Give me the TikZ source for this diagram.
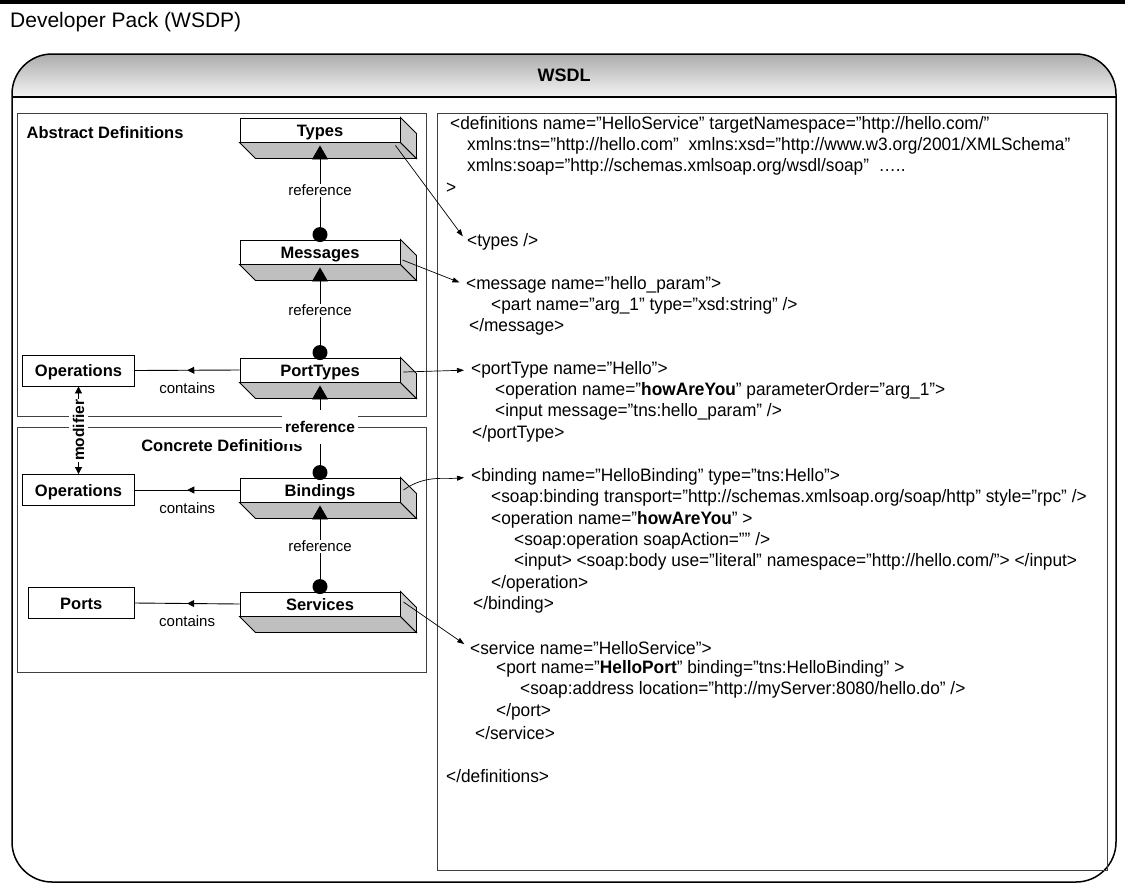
\documentclass[tikz,border=0pt]{standalone}
\usepackage{fontspec}
\setmainfont{Liberation Sans}
\newfontfamily\xmlfont[FakeStretch=0.96]{Liberation Sans}
\usetikzlibrary{arrows.meta, positioning, calc, decorations.markings}
\definecolor{slabgrey}{HTML}{BFBFBF}
\definecolor{sidegrey}{HTML}{CBCBCB}
\definecolor{headtop}{HTML}{ACACAC}
\definecolor{headbot}{HTML}{F4F4F4}
\definecolor{panelline}{HTML}{404040}
\tikzset{
  slab/.style={rectangle, draw, line width=0.9pt, fill=white, minimum width=160pt,
    minimum height=24pt, inner sep=0pt, text height=12pt, text depth=0pt,
    font=\bfseries\fontsize{16.5}{18}\selectfont},
  slabline/.style={draw, line width=0.9pt},
  opsbox/.style={rectangle, draw, line width=0.9pt, fill=white, minimum width=112pt,
    minimum height=31pt, inner sep=0pt, text height=12pt, text depth=0pt,
    font=\bfseries\fontsize{16.5}{18}\selectfont},
  panel/.style={draw=panelline, line width=0.9pt},
  paneltitle/.style={inner sep=0pt, font=\bfseries\fontsize{16.5}{18}\selectfont},
  refdot/.style={circle, fill, inner sep=0pt, minimum size=15pt},
  refarrow/.style={-{Triangle[length=14pt, width=16pt]}, line width=0.9pt},
  reflabel/.style={fill=white, inner sep=1pt, font=\fontsize{15}{17}\selectfont},
  reflabelb/.style={fill=white, inner xsep=3pt, inner ysep=0pt, minimum height=34pt,
    font=\bfseries\fontsize{15.5}{17}\selectfont},
  contains/.style={line width=0.9pt, postaction={decorate},
    decoration={markings, mark=at position 0.5 with {\arrow{Triangle[length=7pt, width=7pt]}}}},
  smalllabel/.style={inner sep=0pt, font=\fontsize{15}{17}\selectfont},
  xmlline/.style={anchor=west, inner sep=0pt, font=\xmlfont\fontsize{18}{20}\selectfont},
  xmlarrow/.style={-{Triangle[length=7pt, width=5pt]}, line width=0.7pt, shorten >=7pt},
}
% front face as a node, bottom and side faces drawn behind-right
\newcommand{\wsdlslab}[3]{%
  \node[slab] (#1) at (#2) {#3};
  \draw[slabline, fill=slabgrey] (#1.south west) -- (#1.south east)
    -- ($(#1.south east)+(16,-16)$) -- ($(#1.south west)+(16,-16)$) -- cycle;
  \draw[slabline, fill=sidegrey] (#1.north east) -- ($(#1.north east)+(16,-16)$)
    -- ($(#1.south east)+(16,-16)$) -- (#1.south east) -- cycle;
}

\begin{document}
\begin{tikzpicture}[x=1pt, y=1pt]
\useasboundingbox (0,0) rectangle (1125,-884);

% page header
\fill (0,0) rectangle (1125,-4);
\node[anchor=base west, inner sep=0pt, font=\fontsize{21}{24}\selectfont] (pack) at (10,-27) {Developer Pack (WSDP)};

% WSDL frame
\shade[top color=headtop, bottom color=headbot] (12,-97) [rounded corners=40pt] -- (12,-54)
  -- (1116,-54) [sharp corners] -- (1116,-97) -- cycle;
\draw[line width=1.5pt, rounded corners=40pt] (12,-54) rectangle (1116,-882);
\draw[line width=1.5pt] (12,-97) -- (1116,-97);
\node[font=\bfseries\fontsize{18}{20}\selectfont] (wsdl) at (564,-75) {WSDL};

% panels
\draw[panel] (17,-113) rectangle (426,-416);
\draw[panel] (17,-427) rectangle (426,-672);
\draw[panel] (437,-113) rectangle (1107,-870);
\node[paneltitle, anchor=west] (abstract) at (26.5,-133) {Abstract Definitions};
\node[paneltitle] (concrete) at (222,-446) {Concrete Definitions};

% slabs
\wsdlslab{types}{320,-130}{Types}
\wsdlslab{messages}{320,-252}{Messages}
\wsdlslab{porttypes}{320,-370}{PortTypes}
\wsdlslab{bindings}{320,-490}{Bindings}
\wsdlslab{services}{320,-604}{Services}

\node[refdot] (msgdot) at ($(messages.north)+(0,5)$) {};
\node[refdot] (ptdot) at ($(porttypes.north)+(0,5)$) {};
\node[refdot] (binddot) at ($(bindings.north)+(0,5)$) {};
\node[refdot] (svcdot) at ($(services.north)+(0,5)$) {};

% contained elements
\node[opsbox] (opsa) at (78.5,-370.5) {Operations};
\node[opsbox] (opsb) at (78.5,-490) {Operations};
\node[opsbox, minimum width=106pt] (ports) at (81.3,-603) {Ports};

% references
\draw[refarrow] (msgdot.center) -- ($(types.south)+(0,-3)$) node[reflabel, midway] {reference};
\draw[refarrow] (ptdot.center) -- ($(messages.south)+(0,-3)$) node[reflabel, midway] {reference};
\draw[refarrow] (binddot.center) -- ($(porttypes.south)+(0,-3)$) node[reflabelb, midway, yshift=2pt] {reference};
\draw[refarrow] (svcdot.center) -- ($(bindings.south)+(0,-3)$) node[reflabel, midway] {reference};

\draw[contains] (porttypes.west) -- (opsa.east) node[smalllabel, midway, below=12pt] {contains};
\draw[contains] (bindings.west) -- (opsb.east) node[smalllabel, midway, below=12pt] {contains};
\draw[contains] (services.west) -- (ports.east) node[smalllabel, midway, below=12pt] {contains};

\draw[{Triangle[length=7pt, width=7pt]}-{Triangle[length=7pt, width=7pt]}, line width=0.9pt]
  (opsa.south) -- (opsb.north)
  node[midway, rotate=90, fill=white, inner xsep=1pt, inner ysep=4pt,
    font=\bfseries\fontsize{15.5}{17}\selectfont] (modlabel) {modifier};

% WSDL document
\node[xmlline] (cdefs) at (450,-125) {<definitions name=”HelloService” targetNamespace=”http://hello.com/”};
\node[xmlline] (cns1) at (467,-146) {xmlns:tns=”http://hello.com”\ \ xmlns:xsd=”http://www.w3.org/2001/XMLSchema”};
\node[xmlline] (cns2) at (467,-167) {xmlns:soap=”http://schemas.xmlsoap.org/wsdl/soap”\ \ …..};
\node[xmlline] (cgt) at (446,-188) {>};
\node[xmlline] (ctypes) at (467,-242) {<types />};
\node[xmlline] (cmsg) at (466,-285) {<message name=”hello\_param”>};
\node[xmlline] (cpart) at (491,-306) {<part name=”arg\_1” type=”xsd:string” />};
\node[xmlline] (cmsgend) at (469,-327) {</message>};
\node[xmlline] (cport) at (471,-370) {<portType name=”Hello”>};
\node[xmlline] (cop) at (495,-391) {<operation name=”\textbf{howAreYou}” parameterOrder=”arg\_1”>};
\node[xmlline] (cin) at (495,-412) {<input message=”tns:hello\_param” />};
\node[xmlline] (cportend) at (472,-434) {</portType>};
\node[xmlline] (cbind) at (471,-477) {<binding name=”HelloBinding” type=”tns:Hello”>};
\node[xmlline] (csoapb) at (491,-498) {<soap:binding transport=”http://schemas.xmlsoap.org/soap/http” style=”rpc” />};
\node[xmlline] (cbop) at (491,-520) {<operation name=”\textbf{howAreYou}” >};
\node[xmlline] (csoapop) at (514,-541) {<soap:operation soapAction=”” />};
\node[xmlline] (cbin) at (514,-562) {<input> <soap:body use=”literal” namespace=”http://hello.com/”> </input>};
\node[xmlline] (cbopend) at (491,-584) {</operation>};
\node[xmlline] (cbindend) at (473,-605) {</binding>};
\node[xmlline] (csvc) at (470,-648) {<service name=”HelloService”>};
\node[xmlline] (cportel) at (496,-669) {<port name=”\textbf{HelloPort}” binding=”tns:HelloBinding” >};
\node[xmlline] (caddr) at (520,-690) {<soap:address location=”http://myServer:8080/hello.do” />};
\node[xmlline] (cportelend) at (496,-712) {</port>};
\node[xmlline] (csvcend) at (475,-733) {</service>};
\node[xmlline] (cdefsend) at (446,-776) {</definitions>};

% slab to document
\draw[xmlarrow] ($(types.south east)+(-5,-3)$) -- (ctypes.west);
\draw[xmlarrow] ($(messages.east)+(2,-8)$) -- (cmsg.west);
\draw[xmlarrow] ($(porttypes.east)+(3,-2)$) -- (cport.west);
\draw[xmlarrow] ($(bindings.east)+(3,0)$) to[out=35, in=185] (cbind.west);
\draw[xmlarrow] ($(services.east)+(3,2)$) -- (csvc.west);
\end{tikzpicture}
\end{document}
